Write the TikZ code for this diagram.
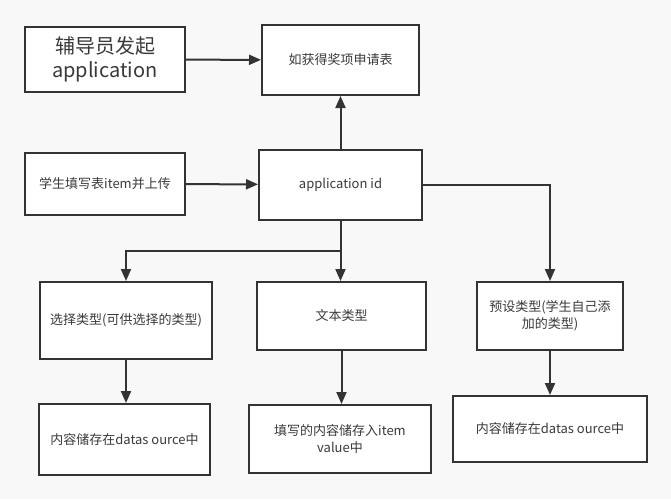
\documentclass[tikz,border=0pt]{standalone}
\usepackage{fontspec}
\newfontfamily\cjk{Noto Sans CJK SC}
\usetikzlibrary{arrows.meta}
\definecolor{bg}{HTML}{F8F8F8}
\definecolor{ink}{HTML}{333333}
\definecolor{txt}{HTML}{3A3A3A}
\tikzset{block/.style = {shape=rectangle,draw=ink,fill=white,line width=2pt,inner sep=0pt,align=center,text=txt}}
\tikzset{edge/.style = {->,> = {Triangle[length=12pt,width=10pt]},draw=ink,line width=2pt}}

\begin{document}
\begin{tikzpicture}[x=1pt,y=-1pt,font=\cjk\fontsize{13}{17}\selectfont]
          \fill[bg] (0,0) rectangle (671,499);
          \useasboundingbox (0,0) rectangle (671,499);

          \node[block,minimum width=160pt,minimum height=65pt,font=\cjk\fontsize{20}{24}\selectfont] (start) at (105,59.5) {辅导员发起\\application};
          \node[block,minimum width=157pt,minimum height=70pt] (form) at (340.5,60) {如获得奖项申请表};
          \node[block,minimum width=160pt,minimum height=62pt] (fill) at (105,184) {学生填写表item并上传};
          \node[block,minimum width=163pt,minimum height=70pt] (appid) at (340.5,184.5) {application id};

          \node[block,minimum width=172pt,minimum height=77pt] (choice) at (126,320.5) {选择类型(可供选择的类型)};
          \node[block,minimum width=169pt,minimum height=68pt] (text) at (341.5,316) {文本类型};
          \node[block,minimum width=146pt,minimum height=68pt] (preset) at (550,316) {预设类型(学生自己添\\加的类型)};

          \node[block,minimum width=171pt,minimum height=71pt] (store1) at (124.5,439.5) {内容储存在datas ource中};
          \node[block,minimum width=182pt,minimum height=68pt] (store2) at (340,439) {填写的内容储存入item\\value中};
          \node[block,minimum width=194pt,minimum height=66pt] (store3) at (550,429) {内容储存在datas ource中};

          \coordinate (split) at (340.5,251);

          \draw[edge] (start) to (form);
          \draw[edge] (fill) to (appid);
          \draw[edge] (appid) to (form);
          \draw[edge] (appid.east) -| (preset.north);
          \draw[ink,line width=2pt] (appid.south) -- (split);
          \draw[edge] (split) -| (choice.north);
          \draw[edge] (split) -- (split |- text.north);
          \draw[edge] (choice.south) -- (choice.south |- store1.north);
          \draw[edge] (text.south) -- (text.south |- store2.north);
          \draw[edge] (preset) to (store3);
        \end{tikzpicture}
\end{document}
